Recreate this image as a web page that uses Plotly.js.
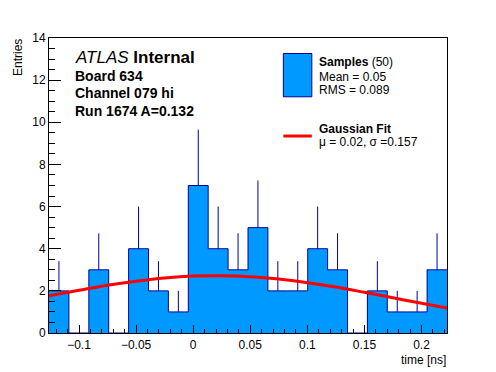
<!DOCTYPE html>
<html>
<head>
<meta charset="utf-8">
<script src="https://cdn.plot.ly/plotly-3.0.1.min.js"></script>
<style>html,body{margin:0;padding:0;background:#fff}#chart{width:496px;height:372px}</style>
</head>
<body>
<div id="chart"></div>
<script>
// ---- data ----
const binStart = -0.1263;
const binWidth = 0.01743;
const counts = [2, 0, 3, 0, 4, 2, 1, 7, 4, 3, 5, 2, 2, 4, 3, 0, 2, 1, 1, 3];
const errors = [1.41, 0, 1.73, 0, 2, 1.41, 1, 2.65, 2, 1.73, 2.24, 1.41, 1.41, 2, 1.73, 0, 1.41, 1, 1, 1.73];
const fitX = [-0.1263, -0.1, -0.075, -0.05, -0.025, 0, 0.025, 0.05, 0.075, 0.1, 0.125, 0.15, 0.175, 0.2, 0.2223];
const fitY = [1.77, 2.03, 2.27, 2.46, 2.61, 2.70, 2.72, 2.67, 2.56, 2.39, 2.18, 1.93, 1.67, 1.41, 1.19];
const xTitle = "time [ns]";
const yTitle = "Entries";

// ---- derived ----
const nb = counts.length;
const centers = counts.map((_, i) => binStart + (i + 0.5) * binWidth);
const edges = [];
for (let i = 0; i <= nb; i++) edges.push(binStart + i * binWidth);
const stepY = counts.concat([counts[nb - 1]]);
const xMax = binStart + nb * binWidth;

const FONT = "Liberation Sans, Arial, Helvetica, sans-serif";
const FILL = "#0099ff";
const NAVY = "#000099";
const RED = "#ff0000";

const traces = [
  {
    type: "bar", x: centers, y: counts, width: binWidth,
    marker: {color: FILL, line: {width: 0}},
    hoverinfo: "skip", showlegend: false
  },
  {
    type: "scatter", mode: "lines", x: edges, y: stepY,
    line: {shape: "hv", color: NAVY, width: 1},
    hoverinfo: "skip", showlegend: false
  },
  {
    type: "scatter", mode: "markers", x: centers, y: counts,
    marker: {size: 1, color: "rgba(0,0,0,0)"},
    error_y: {type: "data", symmetric: false, array: errors, arrayminus: counts.map(() => 0),
              color: NAVY, thickness: 1, width: 0},
    hoverinfo: "skip", showlegend: false
  },
  {
    type: "scatter", mode: "lines", x: fitX, y: fitY,
    line: {color: RED, width: 3, shape: "spline"},
    hoverinfo: "skip", showlegend: false
  }
];

function ann(text, x, y, size, extra) {
  return Object.assign({
    text: text, xref: "paper", yref: "paper", x: x, y: y,
    xanchor: "left", yanchor: "middle", showarrow: false,
    font: {family: FONT, size: size, color: "#000"}
  }, extra || {});
}

const layout = {
  width: 496, height: 372,
  margin: {l: 49, r: 49, t: 38, b: 39},
  paper_bgcolor: "#fff", plot_bgcolor: "#fff",
  showlegend: false,
  bargap: 0,
  font: {family: FONT, size: 12, color: "#000"},
  xaxis: {
    range: [binStart, xMax], showgrid: false, zeroline: false,
    showline: true, mirror: true, linecolor: "#000", linewidth: 1,
    ticks: "inside", ticklen: 8, tickcolor: "#000", tickwidth: 1,
    tick0: 0, dtick: 0.05, ticklabelstandoff: 1,
    minor: {ticks: "inside", dtick: 0.01, ticklen: 4, tickcolor: "#000", showgrid: false},
    tickfont: {family: FONT, size: 12, color: "#000"}
  },
  yaxis: {
    range: [0, 14], showgrid: false, zeroline: false,
    showline: true, mirror: true, linecolor: "#000", linewidth: 1,
    ticks: "inside", ticklen: 12, tickcolor: "#000", tickwidth: 1,
    tick0: 0, dtick: 2,
    minor: {ticks: "inside", dtick: 0.5, ticklen: 6, tickcolor: "#000", showgrid: false},
    tickfont: {family: FONT, size: 12, color: "#000"}
  },
  shapes: [
    {type: "rect", xref: "paper", yref: "paper", x0: 0.5889, x1: 0.6604, y0: 0.8007, y1: 0.9475,
     fillcolor: FILL, line: {color: NAVY, width: 1}},
    {type: "line", xref: "paper", yref: "paper", x0: 0.5889, x1: 0.6604, y0: 0.6677, y1: 0.6677,
     line: {color: RED, width: 3}}
  ],
  annotations: [
    ann("<i>ATLAS</i> <b>Internal</b>", 0.060, 0.9327, 17),
    ann("<b>Board 634</b>", 0.060, 0.8717, 14),
    ann("<b>Channel 079 hi</b>", 0.060, 0.8122, 14),
    ann("<b>Run 1674 A=0.132</b>", 0.060, 0.7533, 14),
    ann("<b>Samples</b> (50)", 0.6735, 0.9191, 12),
    ann("Mean = 0.05", 0.6735, 0.8684, 12),
    ann("RMS = 0.089", 0.6735, 0.8234, 12),
    ann("<b>Gaussian Fit</b>", 0.6735, 0.6904, 12),
    ann("\u03bc = 0.02, \u03c3 =0.157", 0.6735, 0.6484, 12),
    ann(xTitle, 1.0, -0.092, 12, {xanchor: "right", borderpad: 0}),
    ann(yTitle, -0.0762, 1.004, 12, {xanchor: "center", yanchor: "top", textangle: -90})
  ]
};

Plotly.newPlot("chart", traces, layout, {displayModeBar: false, staticPlot: true});
</script>
</body>
</html>
